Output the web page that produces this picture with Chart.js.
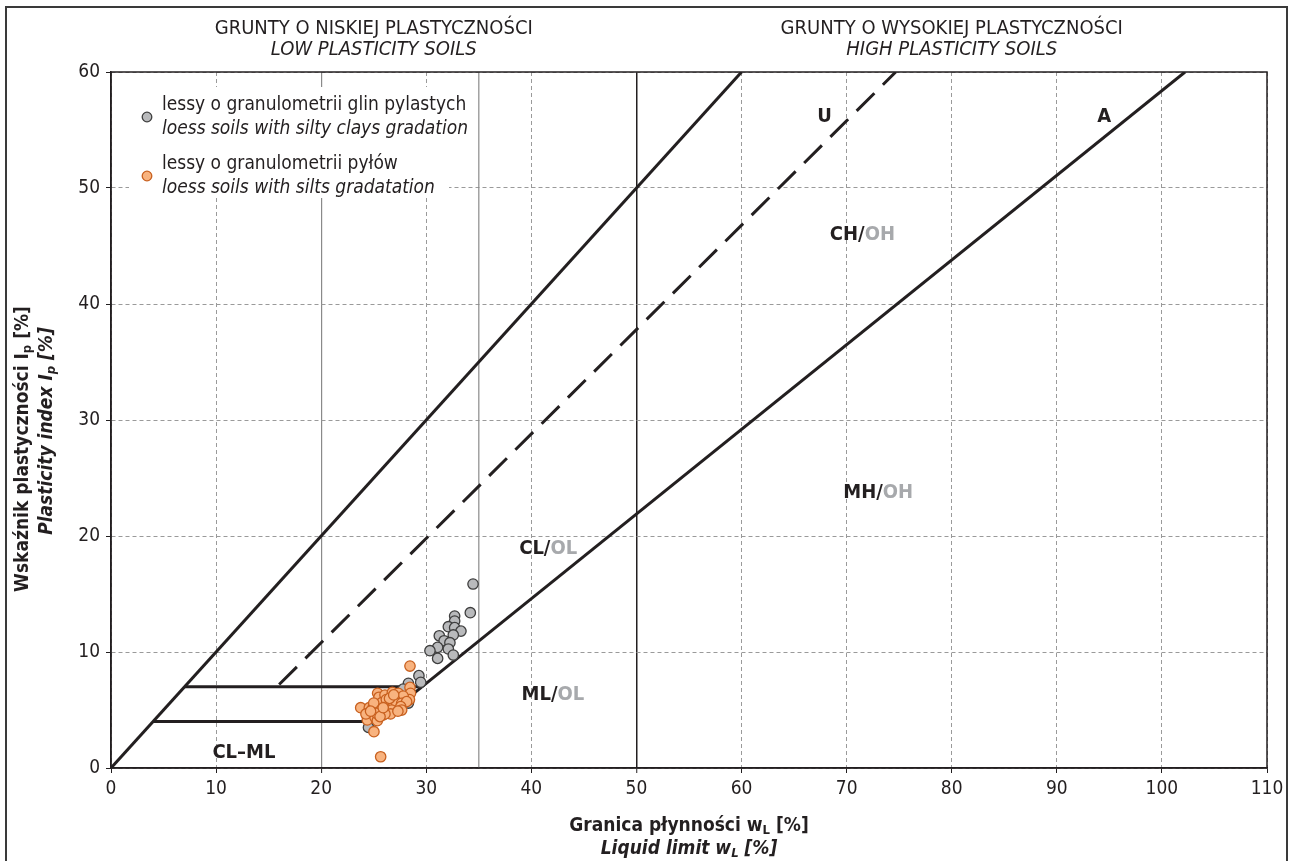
<!DOCTYPE html>
<html>
<head>
<meta charset="utf-8">
<script src="https://cdn.jsdelivr.net/npm/chart.js@4/dist/chart.umd.min.js"></script>
<style>
  body { margin: 0; background: #fff; }
  canvas { display: block; }
</style>
</head>
<body>
<canvas id="wykres" width="1292" height="861"></canvas>
<script>
// dane (wL [%], Ip [%])
const punktyGliny = [
  [34.45, 15.86], [34.19, 13.39], [32.7, 13.1], [32.7, 12.67], [32.1, 12.18],
  [32.7, 12.1], [33.3, 11.8], [31.24, 11.4], [32.57, 11.47], [31.7, 10.97],
  [32.25, 10.8], [31.08, 10.4], [32.1, 10.26], [30.35, 10.11], [31.08, 9.45],
  [32.57, 9.74], [29.3, 7.96], [29.47, 7.39], [28.3, 7.3], [27.8, 6.8],
  [28.3, 5.6], [27.5, 5.0], [24.9, 4.0], [24.5, 3.5]
];
const punktyPyly = [
  [28.45, 8.79], [28.45, 6.95], [28.5, 6.44], [28.4, 5.9], [25.37, 6.44],
  [25.5, 6.1], [26.07, 6.29], [26.77, 6.52], [27.34, 6.44], [27.8, 6.2],
  [23.76, 5.2], [24.58, 5.2], [24.96, 5.29], [25.76, 5.63], [26.39, 5.43],
  [27.02, 5.86], [27.18, 5.58], [27.66, 5.58], [28.13, 5.72], [27.57, 5.29],
  [24.96, 4.71], [26.7, 5.0], [24.33, 4.57], [24.39, 4.14], [25.12, 4.37],
  [25.9, 4.57], [26.6, 4.66], [27.66, 5.0], [25.34, 4.08], [25.02, 3.13],
  [25.66, 0.97], [26.07, 4.66], [25.28, 4.71], [25.6, 4.43], [24.26, 4.66],
  [26.2, 5.9], [25.0, 5.6], [26.5, 6.0], [27.3, 4.9], [24.7, 4.9],
  [26.9, 6.3], [25.9, 5.2]
];

// linie klasyfikacyjne Casagrande
const liniaGorna = [[0, 0], [60, 60]];
const liniaU = [[16, 7.2], [74.67, 60]];
const liniaA = [[25.48, 4], [102.2, 60]];
const poziomaGorna = [[7, 7], [29.6, 7]];
const poziomaDolna = [[4, 4], [25.48, 4]];

const ticksX = [0, 10, 20, 30, 40, 50, 60, 70, 80, 90, 100, 110];
const ticksY = [0, 10, 20, 30, 40, 50, 60];

// opisy stref: [wL, Ip, czarny tekst, szary tekst]
const opisyStref = [
  [67.9, 56.1, "U", ""],
  [94.5, 56.1, "A", ""],
  [71.5, 46.0, "CH/", "OH"],
  [73.0, 23.7, "MH/", "OH"],
  [41.6, 18.9, "CL/", "OL"],
  [42.05, 6.3, "ML/", "OL"],
  [12.65, 1.3, "CL\u2013ML", ""]
];

const FONT = "'Liberation Sans Narrow', 'DejaVu Sans Condensed', 'Roboto', sans-serif";
const CZARNY = "#231f20";
const SZARY = "#a7a9ac";

const doXY = arr => arr.map(p => ({ x: p[0], y: p[1] }));

function linia(dane, extra) {
  return Object.assign({
    type: "scatter",
    data: doXY(dane),
    showLine: true,
    borderColor: CZARNY,
    borderWidth: 3,
    pointRadius: 0,
    pointHoverRadius: 0,
    fill: false,
    order: 5
  }, extra || {});
}

// rysuje tekst z indeksami dolnymi, wycentrowany w (x, y)
function tekstZIndeksem(ctx, czesci, x, y) {
  let szer = 0;
  czesci.forEach(c => { ctx.font = c.font; szer += ctx.measureText(c.t).width; });
  let pos = x - szer / 2;
  ctx.textAlign = "left";
  ctx.textBaseline = "middle";
  czesci.forEach(c => {
    ctx.font = c.font;
    ctx.fillStyle = c.color || CZARNY;
    ctx.fillText(c.t, pos, y + (c.dy || 0));
    pos += ctx.measureText(c.t).width;
  });
}

const dodatki = {
  id: "dodatki",
  beforeDraw(chart) {
    const ctx = chart.ctx;
    ctx.save();
    ctx.fillStyle = "#fff";
    ctx.fillRect(0, 0, chart.width, chart.height);
    // ramka rysunku
    ctx.strokeStyle = "#3a3a3a";
    ctx.lineWidth = 2;
    ctx.beginPath();
    ctx.moveTo(6, chart.height + 2);
    ctx.lineTo(6, 7);
    ctx.lineTo(1287, 7);
    ctx.lineTo(1287, chart.height + 2);
    ctx.stroke();
    ctx.restore();
  },
  beforeDatasetsDraw(chart) {
    const ctx = chart.ctx;
    const a = chart.chartArea;
    const sx = chart.scales.x;
    // granica wL = 35
    const x35 = sx.getPixelForValue(35);
    ctx.save();
    ctx.strokeStyle = "#8a8a8a";
    ctx.lineWidth = 1.2;
    ctx.beginPath();
    ctx.moveTo(x35, a.top);
    ctx.lineTo(x35, a.bottom);
    ctx.stroke();
    ctx.restore();
  },
  afterDatasetsDraw(chart) {
    const ctx = chart.ctx;
    const a = chart.chartArea;
    const sx = chart.scales.x, sy = chart.scales.y;
    ctx.save();

    // obramowanie pola wykresu
    ctx.strokeStyle = CZARNY;
    ctx.lineWidth = 1.5;
    ctx.strokeRect(a.left, a.top, a.right - a.left, a.bottom - a.top);

    // legenda
    ctx.fillStyle = "#fff";
    ctx.fillRect(129, 87, 320, 111);
    const leg = [
      { y: 117, fill: "#b9babc", stroke: "#3e3e3e", l1: "lessy o granulometrii glin pylastych", l2: "loess soils with silty clays gradation" },
      { y: 176, fill: "#f8b37f", stroke: "#c8601f", l1: "lessy o granulometrii pyłów", l2: "loess soils with silts gradatation" }
    ];
    leg.forEach(e => {
      ctx.beginPath();
      ctx.arc(147, e.y, 4.8, 0, Math.PI * 2);
      ctx.fillStyle = e.fill;
      ctx.fill();
      ctx.lineWidth = 1.3;
      ctx.strokeStyle = e.stroke;
      ctx.stroke();
      ctx.fillStyle = CZARNY;
      ctx.textAlign = "left";
      ctx.textBaseline = "middle";
      ctx.font = "19px " + FONT;
      ctx.fillText(e.l1, 162, e.y - 12);
      ctx.font = "italic 19px " + FONT;
      ctx.fillText(e.l2, 162, e.y + 12);
    });

    // opisy stref
    opisyStref.forEach(o => {
      const px = sx.getPixelForValue(o[0]);
      const py = sy.getPixelForValue(o[1]);
      tekstZIndeksem(ctx, [
        { t: o[2], font: "bold 20px " + FONT, color: CZARNY },
        { t: o[3], font: "bold 20px " + FONT, color: SZARY }
      ], px, py);
    });

    // naglowki nad wykresem
    const x0 = sx.getPixelForValue(0), x50 = sx.getPixelForValue(50), x110 = sx.getPixelForValue(110);
    ctx.fillStyle = CZARNY;
    ctx.textAlign = "center";
    ctx.textBaseline = "middle";
    ctx.font = "20px " + FONT;
    ctx.fillText("GRUNTY O NISKIEJ PLASTYCZNOŚCI", (x0 + x50) / 2, 29);
    ctx.fillText("GRUNTY O WYSOKIEJ PLASTYCZNOŚCI", (x50 + x110) / 2, 29);
    ctx.font = "italic 20px " + FONT;
    ctx.fillText("LOW PLASTICITY SOILS", (x0 + x50) / 2, 50);
    ctx.fillText("HIGH PLASTICITY SOILS", (x50 + x110) / 2, 50);

    // tytul osi X
    const b = "bold 19px " + FONT, bs = "bold 13px " + FONT;
    const bi = "bold italic 19px " + FONT, bis = "bold italic 13px " + FONT;
    const cx = (a.left + a.right) / 2;
    tekstZIndeksem(ctx, [
      { t: "Granica płynności w", font: b },
      { t: "L", font: bs, dy: 5 },
      { t: " [%]", font: b }
    ], cx, 826);
    tekstZIndeksem(ctx, [
      { t: "Liquid limit w", font: bi },
      { t: "L", font: bis, dy: 5 },
      { t: " [%]", font: bi }
    ], cx, 849);

    // tytul osi Y
    ctx.save();
    ctx.translate(23, 449);
    ctx.rotate(-Math.PI / 2);
    tekstZIndeksem(ctx, [
      { t: "Wskaźnik plastyczności I", font: b },
      { t: "p", font: bs, dy: 5 },
      { t: " [%]", font: b }
    ], 0, 0);
    ctx.restore();
    ctx.save();
    ctx.translate(47, 431);
    ctx.rotate(-Math.PI / 2);
    tekstZIndeksem(ctx, [
      { t: "Plasticity index I", font: bi },
      { t: "p", font: bis, dy: 5 },
      { t: " [%]", font: bi }
    ], 0, 0);
    ctx.restore();

    ctx.restore();
  }
};

function siatka(specjalne) {
  return {
    grid: {
      drawOnChartArea: true,
      drawTicks: true,
      tickLength: 5,
      tickColor: CZARNY,
      tickWidth: 1,
      color: c => specjalne[c.tick && c.tick.value] ? specjalne[c.tick.value].color : "#9a9a9a",
      lineWidth: c => specjalne[c.tick && c.tick.value] ? specjalne[c.tick.value].width : 1
    },
    border: {
      display: true,
      color: CZARNY,
      width: 1.5,
      dash: c => specjalne[c.tick && c.tick.value] ? [] : [4, 3]
    }
  };
}

const osX = siatka({ 20: { color: "#8a8a8a", width: 1.2 }, 50: { color: CZARNY, width: 1.5 } });
const osY = siatka({});

new Chart(document.getElementById("wykres"), {
  type: "scatter",
  data: {
    datasets: [
      {
        label: "lessy o granulometrii pyłów",
        data: doXY(punktyPyly),
        backgroundColor: "#f8b37f",
        borderColor: "#c8601f",
        borderWidth: 1.3,
        pointRadius: 5.2,
        order: 1
      },
      {
        label: "lessy o granulometrii glin pylastych",
        data: doXY(punktyGliny),
        backgroundColor: "#b9babc",
        borderColor: "#3e3e3e",
        borderWidth: 1.3,
        pointRadius: 5.2,
        order: 2
      },
      linia(liniaGorna),
      linia(liniaU, { borderDash: [25, 12] }),
      linia(liniaA),
      linia(poziomaGorna),
      linia(poziomaDolna)
    ]
  },
  options: {
    responsive: false,
    animation: false,
    layout: { padding: { top: 72, right: 25, bottom: 0, left: 0 } },
    plugins: {
      legend: { display: false },
      tooltip: { enabled: false }
    },
    scales: {
      x: Object.assign({
        type: "linear",
        min: 0,
        max: 110,
        afterFit: s => { s.height = 93; },
        afterBuildTicks: s => { s.ticks = ticksX.map(v => ({ value: v })); },
        ticks: { color: CZARNY, padding: 5, font: { family: FONT, size: 19 } }
      }, osX),
      y: Object.assign({
        type: "linear",
        min: 0,
        max: 60,
        afterFit: s => { s.width = 111; },
        afterBuildTicks: s => { s.ticks = ticksY.map(v => ({ value: v })); },
        ticks: { color: CZARNY, padding: 6, font: { family: FONT, size: 19 } }
      }, osY)
    }
  },
  plugins: [dodatki]
});
</script>
</body>
</html>
